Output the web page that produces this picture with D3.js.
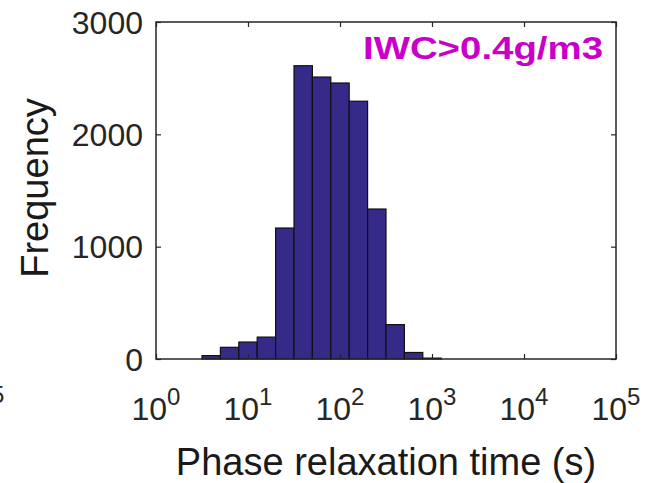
<!DOCTYPE html>
<html>
<head>
<meta charset="utf-8">
<script src="https://cdn.jsdelivr.net/npm/d3@7"></script>
<style>
  body { margin: 0; background: #fff; }
  text { font-family: "Liberation Sans", Arial, sans-serif; }
</style>
</head>
<body>
<div id="chart"></div>
<script>
// histogram bins, log10 of the bin edges
let logEdges = [0.5, 0.7, 0.9, 1.1, 1.3, 1.5, 1.7, 1.9, 2.1, 2.3, 2.5, 2.7, 2.9, 3.1];
let counts = [30, 104, 151, 195, 1166, 2611, 2510, 2457, 2295, 1335, 306, 58, 8];
let xTickExp = [0, 1, 2, 3, 4, 5];
let yTicks = [0, 1000, 2000, 3000];
let title = "IWC>0.4g/m3";

let config = { svg: {}, plot: {} };
config.svg.width = 646;
config.svg.height = 483;
config.plot.left = 156;
config.plot.right = 616;
config.plot.top = 22;
config.plot.bottom = 359;

let axisColor = "#262626";

let svg = d3.select("#chart").append("svg")
  .attr("width", config.svg.width)
  .attr("height", config.svg.height);

let x = d3.scaleLog().domain([1, 1e5]).range([config.plot.left, config.plot.right]);
let y = d3.scaleLinear().domain([0, 3000]).range([config.plot.bottom, config.plot.top]);

let bins = counts.map(function(c, i) {
  return { x0: Math.pow(10, logEdges[i]), x1: Math.pow(10, logEdges[i + 1]), n: c };
});

// bars
svg.selectAll("rect.bar")
  .data(bins)
  .enter()
  .append("rect")
  .attr("class", "bar")
  .attr("x", d => x(d.x0))
  .attr("y", d => y(d.n))
  .attr("width", d => x(d.x1) - x(d.x0))
  .attr("height", d => y(0) - y(d.n))
  .style("fill", "#352a87")
  .style("stroke", "#111")
  .style("stroke-width", 1.2);

// box
svg.append("rect")
  .attr("x", config.plot.left)
  .attr("y", config.plot.top)
  .attr("width", config.plot.right - config.plot.left)
  .attr("height", config.plot.bottom - config.plot.top)
  .style("fill", "none")
  .style("stroke", axisColor)
  .style("stroke-width", 1.5);

// x axis (ticks inward, bottom and top)
let xTickVals = xTickExp.map(e => Math.pow(10, e));
let xAxisB = d3.axisBottom(x).tickValues(xTickVals).tickSize(-5).tickFormat("");
let xAxisT = d3.axisTop(x).tickValues(xTickVals).tickSize(-5).tickFormat("");
svg.append("g").attr("transform", "translate(0," + config.plot.bottom + ")").call(xAxisB);
svg.append("g").attr("transform", "translate(0," + config.plot.top + ")").call(xAxisT);

let yAxisL = d3.axisLeft(y).tickValues(yTicks).tickSize(-5).tickFormat("");
let yAxisR = d3.axisRight(y).tickValues(yTicks).tickSize(-5).tickFormat("");
svg.append("g").attr("transform", "translate(" + config.plot.left + ",0)").call(yAxisL);
svg.append("g").attr("transform", "translate(" + config.plot.right + ",0)").call(yAxisR);

svg.selectAll(".domain").remove();
svg.selectAll(".tick line").style("stroke", axisColor).style("stroke-width", 1.2);

// x tick labels 10^n
let xl = svg.selectAll("text.xlab")
  .data(xTickExp)
  .enter()
  .append("text")
  .attr("class", "xlab")
  .attr("x", d => x(Math.pow(10, d)))
  .attr("y", 420)
  .attr("text-anchor", "middle")
  .style("fill", axisColor)
  .style("font-size", "32px");
xl.append("tspan").text("10");
xl.append("tspan").attr("dy", -15).style("font-size", "24px").text(d => d);

// y tick labels
svg.selectAll("text.ylab")
  .data(yTicks)
  .enter()
  .append("text")
  .attr("class", "ylab")
  .attr("x", 143)
  .attr("y", d => y(d))
  .attr("dy", "0.36em")
  .attr("text-anchor", "end")
  .style("fill", axisColor)
  .style("font-size", "32px")
  .text(d => d);

// axis labels
svg.append("text")
  .attr("x", 386)
  .attr("y", 475)
  .attr("text-anchor", "middle")
  .style("fill", "#1a1a1a")
  .style("font-size", "38px")
  .text("Phase relaxation time (s)");

svg.append("text")
  .attr("transform", "translate(48,188) rotate(-90)")
  .attr("text-anchor", "middle")
  .style("fill", "#1a1a1a")
  .style("font-size", "38px")
  .text("Frequency");

// annotation
svg.append("text")
  .attr("x", 603)
  .attr("y", 59)
  .attr("text-anchor", "end")
  .style("fill", "#c800c8")
  .style("font-size", "31px")
  .style("font-weight", "bold")
  .attr("textLength", 240)
  .attr("lengthAdjust", "spacingAndGlyphs")
  .text(title);

// fragment of neighbouring panel's tick label at the left edge
svg.append("text")
  .attr("x", -9)
  .attr("y", 403)
  .style("fill", axisColor)
  .style("font-size", "24px")
  .text("5");
</script>
</body>
</html>
